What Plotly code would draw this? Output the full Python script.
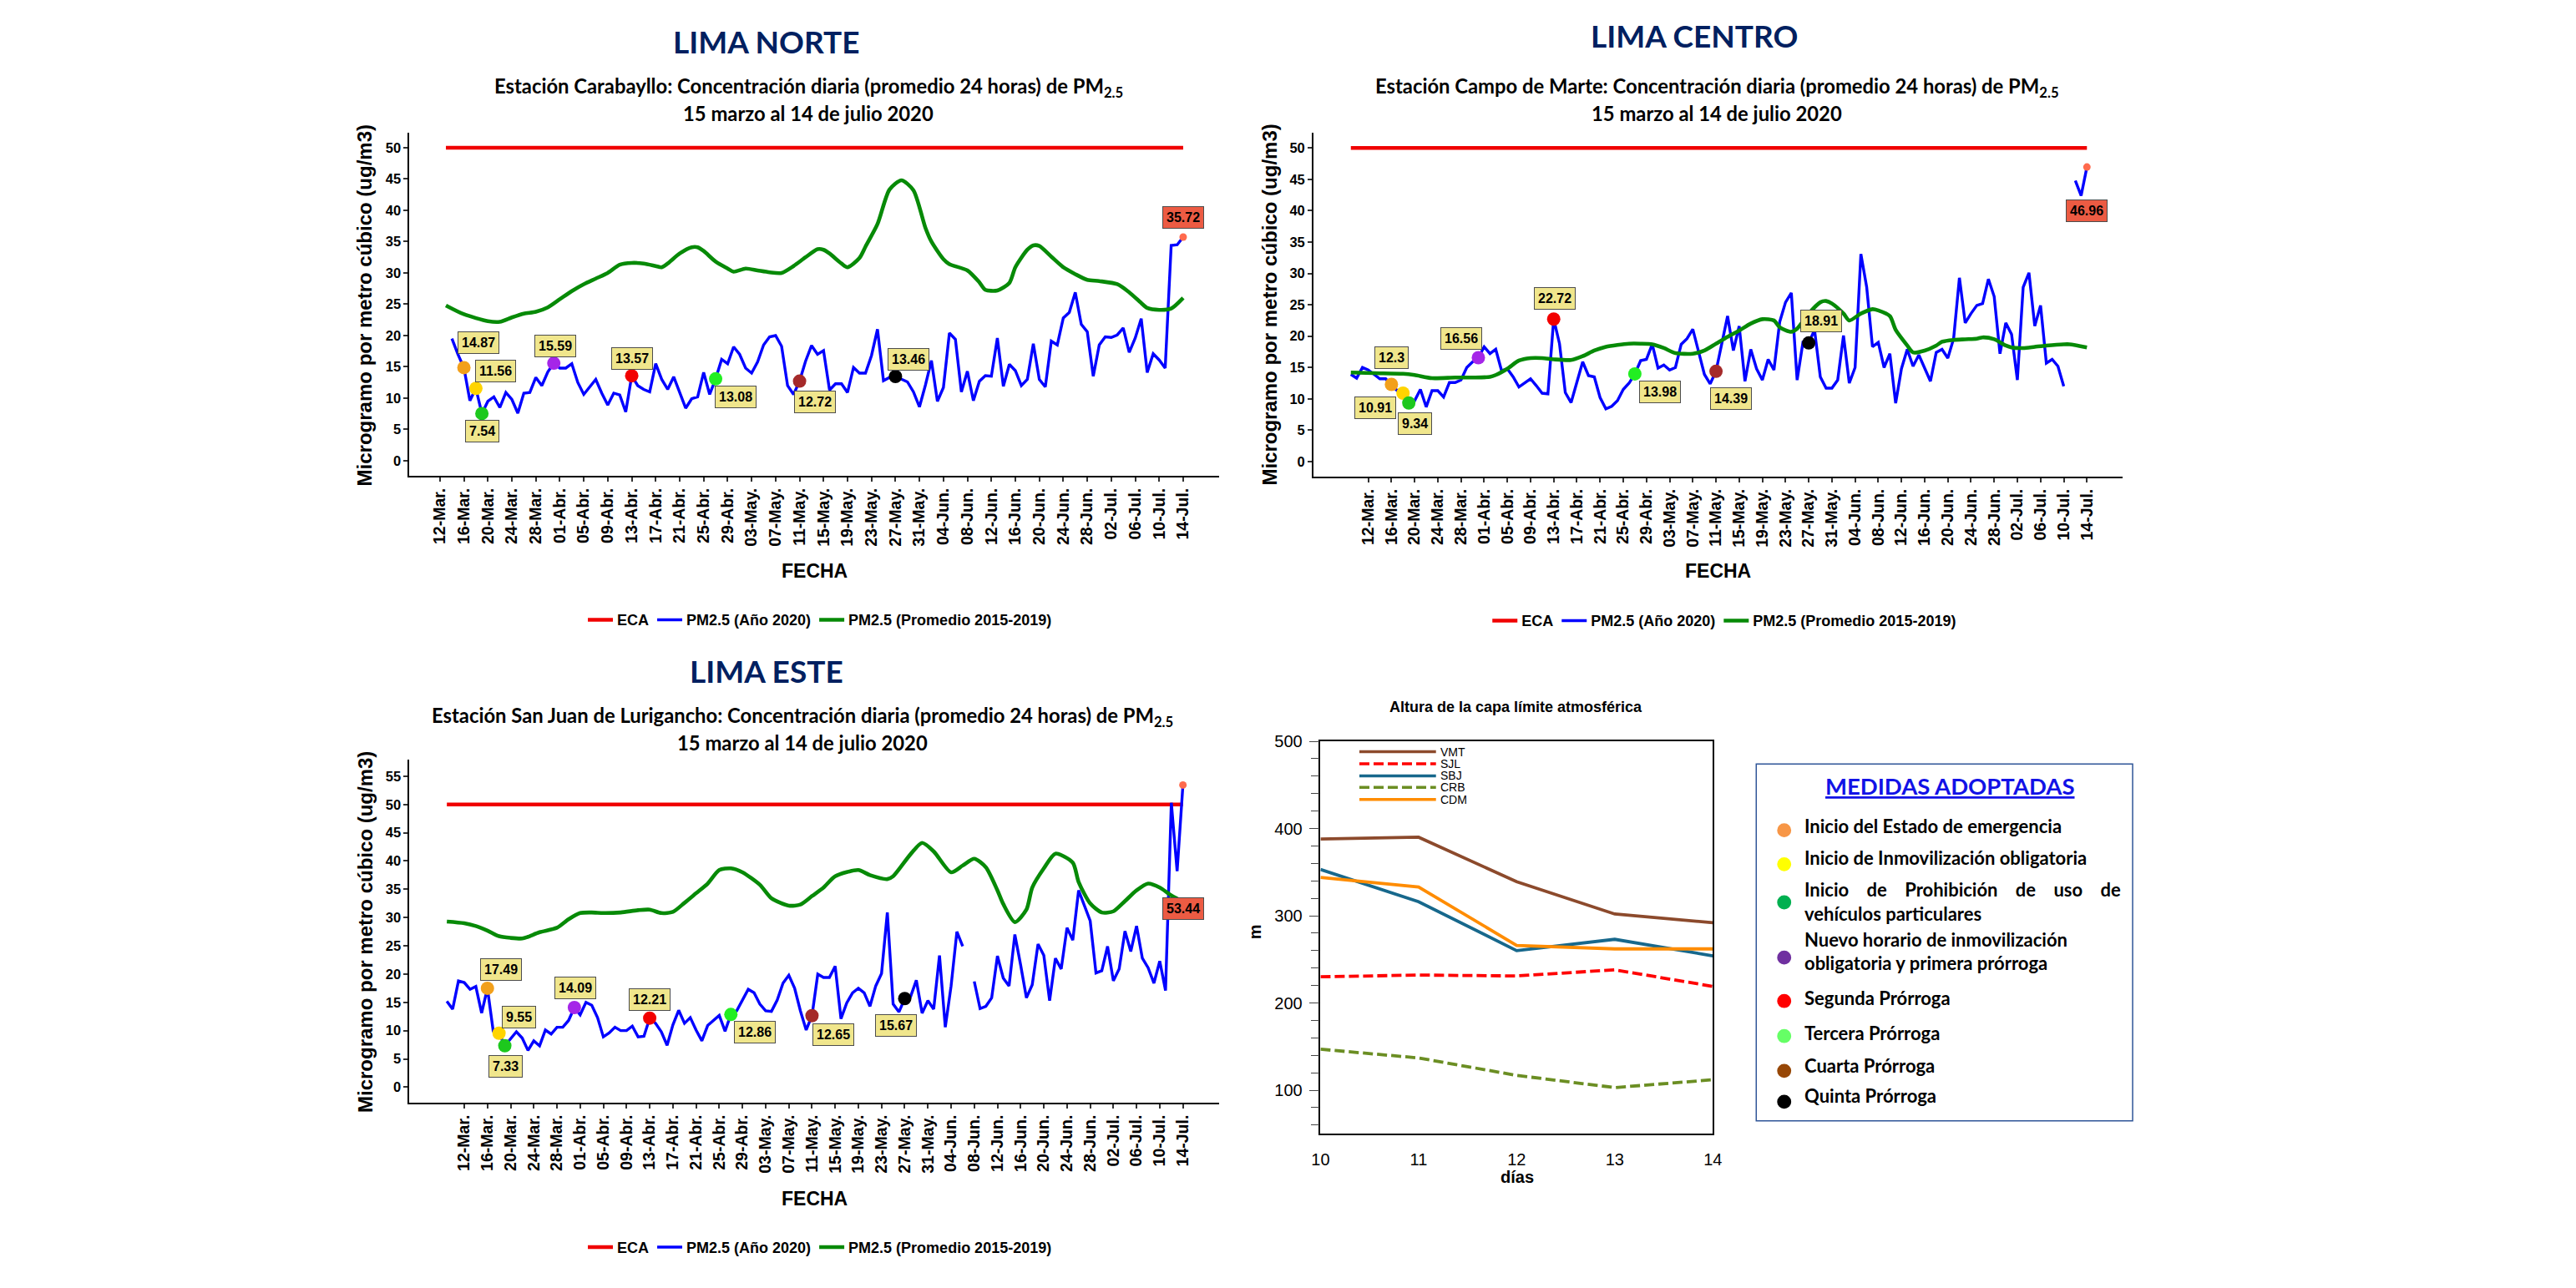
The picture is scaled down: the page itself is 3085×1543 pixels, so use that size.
import plotly.graph_objects as go
import pandas as pd

W, H = 3085, 1543
BASE = pd.Timestamp("2020-03-12")


def PX(x):
    return x / W


def PY(y):
    return 1 - y / H


def day(d):
    return BASE + pd.Timedelta(days=d)


# ------------------------------------------------------------------ DATA
ECA = 50
TICK_LABELS = ["12-Mar.", "16-Mar.", "20-Mar.", "24-Mar.", "28-Mar.", "01-Abr.", "05-Abr.", "09-Abr.",
               "13-Abr.", "17-Abr.", "21-Abr.", "25-Abr.", "29-Abr.", "03-May.", "07-May.", "11-May.",
               "15-May.", "19-May.", "23-May.", "27-May.", "31-May.", "04-Jun.", "08-Jun.", "12-Jun.",
               "16-Jun.", "20-Jun.", "24-Jun.", "28-Jun.", "02-Jul.", "06-Jul.", "10-Jul.", "14-Jul."]
TICK_DAYS = [4 * i for i in range(len(TICK_LABELS))]  # days after 12-Mar

# measures: 16-Mar, 18-Mar, 19-Mar, 31-Mar, 13-Abr, 27-Abr, 11-May, 27-May (days after 12-Mar)
MEDIDA_DAYS = [4, 6, 7, 19, 32, 46, 60, 76]
MEDIDA_COLORS = ["#F2A01C", "#FFD400", "#1DC81D", "#A526E8", "#F20000", "#22EE22", "#A52A2A", "#000000"]

# ---- Lima Norte (Carabayllo)
NORTE_ECA_DAYS = [1, 124]
NORTE_BLUE_FIRST_DAY = 2
NORTE_BLUE = [19.5, 17.0, 14.87, 9.6, 11.56, 7.54, 9.5, 10.2, 8.5, 10.9, 9.8, 7.6, 10.8, 10.9, 13.3, 12.0,
              14.2, 15.59, 14.8, 14.8, 15.5, 12.5, 10.6, 11.8, 13.0, 10.8, 8.9, 10.8, 10.5, 7.8, 13.57, 12.0,
              11.4, 11.0, 15.5, 13.0, 11.4, 13.4, 11.0, 8.4, 9.9, 10.2, 14.1, 10.6, 13.08, 16.2, 15.5, 18.2,
              17.0, 14.8, 14.0, 15.8, 18.5, 19.8, 20.0, 18.3, 12.0, 10.6, 12.72, 15.9, 18.4, 17.0, 17.6, 11.3,
              12.3, 12.3, 10.9, 14.9, 14.0, 14.0, 16.8, 21.0, 12.8, 13.3, 13.46, 13.0, 12.6, 11.0, 8.6, 12.1,
              16.0, 9.5, 11.7, 20.4, 19.4, 11.0, 14.3, 9.6, 12.7, 13.6, 13.5, 19.6, 11.9, 15.4, 14.4, 12.0,
              13.0, 18.7, 13.0, 11.8, 19.1, 18.5, 22.8, 23.7, 26.9, 21.8, 20.6, 13.5, 18.5, 19.8, 19.7, 20.1,
              21.2, 17.3, 19.6, 22.7, 14.1, 17.1, 16.1, 14.8, 34.4, 34.5, 35.72]
NORTE_PROM_DAY = [1, 4, 8, 10, 12, 14, 16, 18, 20, 22, 24, 26, 28, 30, 32, 34, 36, 37, 38, 40, 42, 43, 44,
                  46, 48, 49, 51, 53, 55, 57, 59, 61, 63, 64, 65, 67, 68, 70, 71, 73, 75, 77, 79, 81, 82,
                  84, 85, 88, 90, 91, 93, 95, 96, 98, 99, 100, 102, 104, 106, 108, 110, 113, 115, 117, 118,
                  120, 122, 124]
NORTE_PROM = [24.8, 23.4, 22.3, 22.2, 22.9, 23.5, 23.8, 24.5, 25.8, 27.1, 28.2, 29.1, 30.0, 31.3, 31.6,
              31.5, 31.1, 30.9, 31.5, 33.1, 34.1, 34.1, 33.5, 31.8, 30.7, 30.2, 30.7, 30.4, 30.1, 30.0,
              31.1, 32.5, 33.8, 33.7, 33.1, 31.5, 30.9, 32.4, 34.2, 37.8, 43.3, 44.8, 43.2, 37.2, 35.0,
              32.2, 31.4, 30.4, 28.5, 27.3, 27.2, 28.4, 30.9, 33.7, 34.4, 34.3, 32.6, 30.9, 29.8, 28.9,
              28.7, 28.2, 26.9, 25.2, 24.4, 24.1, 24.3, 26.0]
NORTE_MEDIDAS = [14.87, 11.56, 7.54, 15.59, 13.57, 13.08, 12.72, 13.46]

# ---- Lima Centro (Campo de Marte)
CENTRO_ECA_DAYS = [-3, 124]
CENTRO_BLUE_FIRST_DAY = -3
CENTRO_BLUE = [13.9, 13.3, 15.0, 14.6, 13.9, 13.2, 13.2, 12.3, 11.3, 10.91, 9.34, 9.7, 11.5, 8.7, 11.3, 11.3,
               10.3, 12.6, 12.6, 13.0, 15.0, 15.9, 16.56, 18.3, 17.2, 17.9, 14.5, 14.8, 13.5, 11.9, 12.5,
               13.2, 12.1, 10.9, 10.8, 22.72, 18.8, 11.0, 9.4, 12.6, 15.9, 13.7, 13.5, 10.2, 8.4, 8.8, 9.7,
               11.5, 12.5, 13.98, 16.1, 16.3, 18.7, 14.9, 15.4, 14.6, 15.0, 18.7, 19.6, 21.1, 17.7, 13.9,
               12.4, 14.39, 18.8, 23.2, 17.7, 21.6, 12.8, 17.9, 14.8, 13.0, 16.3, 14.6, 22.3, 25.4, 26.9,
               13.0, 19.0, 18.91, 21.0, 13.5, 11.7, 11.7, 13.0, 20.1, 12.5, 15.0, 33.1, 27.8, 18.3, 19.0,
               15.0, 17.2, 9.3, 14.8, 17.9, 15.2, 17.0, 15.0, 12.8, 17.4, 17.9, 16.5, 19.6, 29.3, 22.1,
               23.6, 24.9, 25.2, 29.1, 26.3, 17.2, 22.1, 20.3, 13.0, 27.8, 30.1, 21.6, 24.9, 15.7, 16.3,
               15.2, 12.0, None, 44.8, 42.4, 46.96]
CENTRO_PROM_DAY = [-3, 1, 6, 8, 11, 15, 18, 21, 22, 24, 26, 28, 30, 32, 35, 37, 39, 41, 43, 45, 47, 49, 51,
                   53, 56, 58, 60, 62, 64, 66, 68, 70, 71, 73, 74, 76, 78, 79, 80, 82, 83, 85, 87, 88, 90,
                   91, 93, 94, 96, 98, 99, 101, 103, 105, 106, 108, 110, 111, 113, 115, 117, 120, 121, 124]
CENTRO_PROM = [14.2, 14.1, 14.0, 13.8, 13.3, 13.4, 13.4, 13.5, 13.8, 14.8, 16.1, 16.5, 16.5, 16.3, 16.2,
               16.8, 17.7, 18.3, 18.6, 18.8, 18.8, 18.7, 18.1, 17.3, 17.2, 17.7, 18.8, 19.9, 20.9, 22.0,
               22.7, 22.5, 21.4, 20.7, 21.2, 23.6, 25.4, 25.6, 25.2, 23.6, 22.5, 23.6, 24.3, 24.1, 23.2,
               21.0, 18.5, 17.4, 17.7, 18.5, 19.1, 19.4, 19.5, 19.6, 19.8, 19.5, 18.5, 18.2, 18.1, 18.3,
               18.5, 18.7, 18.7, 18.2]
CENTRO_MEDIDAS = [12.3, 10.91, 9.34, 16.56, 22.72, 13.98, 14.39, 18.91]

# ---- Lima Este (San Juan de Lurigancho)
ESTE_ECA_DAYS = [-3, 124]
ESTE_BLUE_FIRST_DAY = -3
ESTE_BLUE = [15.2, 13.8, 18.8, 18.5, 17.3, 17.8, 13.1, 17.49, 9.9, 9.55, 7.33, 8.6, 9.8, 8.7, 6.5, 8.2, 7.3,
             10.1, 9.4, 10.6, 10.6, 11.8, 14.09, 12.8, 15.0, 14.5, 12.3, 8.9, 9.6, 10.6, 10.0, 10.0, 10.8,
             8.9, 9.0, 12.21, 11.3, 9.8, 7.4, 11.0, 13.6, 11.3, 12.3, 10.1, 8.2, 10.9, 11.8, 12.7, 9.9,
             12.86, 13.5, 15.5, 17.3, 16.7, 14.7, 13.5, 13.4, 15.4, 18.4, 19.8, 17.5, 13.5, 10.1, 12.65,
             20.0, 19.4, 19.4, 21.4, 12.1, 14.9, 16.7, 17.5, 16.7, 14.3, 17.9, 20.1, 30.9, 14.7, 13.3, 15.67,
             16.0, 18.9, 13.1, 15.3, 13.8, 23.3, 10.6, 17.9, 27.5, 24.9, None, 18.7, 13.9, 14.3, 15.8, 23.2,
             19.3, 17.9, 27.0, 21.6, 15.8, 18.1, 25.3, 23.3, 15.3, 22.8, 20.9, 28.2, 26.0, 34.8, 32.0, 29.4,
             20.2, 20.6, 24.9, 18.8, 20.9, 27.6, 24.0, 28.5, 22.8, 21.1, 18.4, 22.3, 17.1, 50.3, 38.2, 53.44]
ESTE_PROM_DAY = [-3, 0, 2, 4, 6, 8, 10, 11, 13, 16, 18, 20, 22, 24, 27, 30, 32, 34, 36, 38, 40, 42, 44, 46,
                 48, 51, 53, 56, 58, 60, 62, 64, 68, 70, 73, 74, 77, 79, 81, 84, 86, 88, 90, 92, 93, 95,
                 97, 98, 100, 102, 105, 106, 108, 110, 112, 114, 116, 118, 120, 122, 124]
ESTE_PROM = [29.3, 29.0, 28.5, 27.7, 26.7, 26.4, 26.3, 26.6, 27.4, 28.2, 29.7, 30.8, 30.9, 30.8, 30.9, 31.3,
             31.4, 30.8, 31.0, 32.6, 34.3, 36.0, 38.4, 38.7, 38.0, 35.8, 33.4, 32.1, 32.3, 33.8, 35.3, 37.3,
             38.4, 37.5, 36.8, 37.3, 41.2, 43.2, 41.7, 38.0, 39.2, 40.4, 38.9, 34.8, 32.4, 29.2, 31.4, 35.3,
             38.7, 41.3, 39.7, 36.3, 32.5, 30.9, 31.1, 32.9, 34.8, 36.0, 35.3, 33.9, 32.8]
ESTE_MEDIDAS = [17.49, 9.55, 7.33, 14.09, 12.21, 12.86, 12.65, 15.67]

# ---- Altura de la capa limite atmosferica
DIAS = [10, 11, 12, 13, 14]
CAPA_NAMES = ["VMT", "SJL", "SBJ", "CRB", "CDM"]
CAPA_VALUES = {
    "VMT": [388, 390, 339, 302, 292],
    "SJL": [230, 232, 231, 238, 219],
    "SBJ": [353, 316, 260, 273, 254],
    "CRB": [147, 137, 117, 103, 112],
    "CDM": [344, 333, 266, 262, 262],
}

MEDIDAS_TITLE = "MEDIDAS ADOPTADAS"
MEDIDAS_TEXT = [
    ["Inicio del Estado de emergencia"],
    ["Inicio de Inmovilización obligatoria"],
    ["Inicio\u00a0\u00a0\u00a0 de\u00a0\u00a0\u00a0 Prohibición\u00a0\u00a0\u00a0 de\u00a0\u00a0\u00a0 uso\u00a0\u00a0\u00a0 de",
     "vehículos particulares"],
    ["Nuevo horario de inmovilización", "obligatoria y primera prórroga"],
    ["Segunda Prórroga"],
    ["Tercera Prórroga"],
    ["Cuarta Prórroga"],
    ["Quinta Prórroga"],
]
MEDIDAS_LEGEND_COLORS = ["#F79646", "#FFFF00", "#00B050", "#7030A0", "#FF0000", "#66FF66", "#974706", "#000000"]

# ------------------------------------------------------------------ STYLE / LAYOUT
ARIAL = "Liberation Sans, Arial, sans-serif"
CALIBRI = "Lato, Open Sans, sans-serif"

PANELS = [
    dict(name="norte", xa="x", ya="y", legend="legend",
         title="LIMA NORTE", title_xy=(914, 39),
         sub1="Estación Carabayllo: Concentración diaria (promedio 24 horas) de PM<sub>2.5</sub>",
         sub_xy=(964, 95, 126),
         eca=NORTE_ECA_DAYS, first=NORTE_BLUE_FIRST_DAY, blue=NORTE_BLUE,
         pday=NORTE_PROM_DAY, prom=NORTE_PROM, med=NORTE_MEDIDAS,
         off=[(17, -30), (24, -21), (0, 21), (2, -21), (0, -21), (24, 22), (18, 25), (16, -21)],
         end_off=(0, -24),
         xdom=(482.9, 1459.8), ydom=(563, 149), xr=(-5.07, 130.05), yr=(-2.4, 52.4), yt=list(range(0, 51, 5)),
         ytitle_xy=(429, 357), fecha_xy=(971, 678), leg_xy=(978, 737)),
    dict(name="centro", xa="x2", ya="y2", legend="legend2",
         title="LIMA CENTRO", title_xy=(2032, 32),
         sub1="Estación Campo de Marte: Concentración diaria (promedio 24 horas) de PM<sub>2.5</sub>",
         sub_xy=(2060, 95, 126),
         eca=CENTRO_ECA_DAYS, first=CENTRO_BLUE_FIRST_DAY, blue=CENTRO_BLUE,
         pday=CENTRO_PROM_DAY, prom=CENTRO_PROM, med=CENTRO_MEDIDAS,
         off=[(0, -32), (-33, 18), (7, 25), (-20, -23), (1, -25), (30, 22), (18, 33), (15, -26)],
         end_off=(0, 52),
         xdom=(1573.3, 2548.8), ydom=(564, 149.3), xr=(-9.44, 130.1), yr=(-2.4, 52.4), yt=list(range(0, 51, 5)),
         ytitle_xy=(1520, 357), fecha_xy=(2061, 678), leg_xy=(2069, 738)),
    dict(name="este", xa="x3", ya="y3", legend="legend3",
         title="LIMA ESTE", title_xy=(914, 798),
         sub1="Estación San Juan de Lurigancho: Concentración diaria (promedio 24 horas) de PM<sub>2.5</sub>",
         sub_xy=(957, 854, 885),
         eca=ESTE_ECA_DAYS, first=ESTE_BLUE_FIRST_DAY, blue=ESTE_BLUE,
         pday=ESTE_PROM_DAY, prom=ESTE_PROM, med=ESTE_MEDIDAS,
         off=[(16, -22), (24, -19), (1, 25), (1, -23), (0, -22), (29, 21), (26, 23), (-10, 32)],
         end_off=(0, 148),
         xdom=(482.9, 1459.8), ydom=(1319.3, 905), xr=(-9.44, 130.3), yr=(-2.73, 58.0), yt=list(range(0, 56, 5)),
         ytitle_xy=(429, 1113), fecha_xy=(971, 1435), leg_xy=(978, 1494)),
]

fig = go.Figure()
annotations = []
shapes = []
layout_axes = {}
legends = {}


def paper_text(x, y, text, font, xanchor="center", angle=0):
    return dict(x=PX(x), y=PY(y), xref="paper", yref="paper", text=text, showarrow=False,
                xanchor=xanchor, yanchor="middle", textangle=angle, font=font)


for p in PANELS:
    eca_x = [day(d) for d in p["eca"]]
    fig.add_trace(go.Scatter(x=eca_x, y=[ECA] * len(eca_x), mode="lines", name="ECA",
                             line=dict(color="#F00000", width=4.5),
                             xaxis=p["xa"], yaxis=p["ya"], legend=p["legend"]))
    bx = [day(p["first"] + i) for i in range(len(p["blue"]))]
    fig.add_trace(go.Scatter(x=bx, y=p["blue"], mode="lines", name="PM2.5 (Año 2020)",
                             line=dict(color="#0000FF", width=3.4),
                             xaxis=p["xa"], yaxis=p["ya"], legend=p["legend"]))
    fig.add_trace(go.Scatter(x=[day(d) for d in p["pday"]], y=p["prom"], mode="lines",
                             name="PM2.5 (Promedio 2015-2019)",
                             line=dict(color="#078A07", width=4.6, shape="spline", smoothing=0.7),
                             xaxis=p["xa"], yaxis=p["ya"], legend=p["legend"]))
    mx = [day(d) for d in MEDIDA_DAYS]
    fig.add_trace(go.Scatter(x=mx, y=p["med"], mode="markers", showlegend=False,
                             marker=dict(color=MEDIDA_COLORS, size=16, line=dict(width=0)),
                             xaxis=p["xa"], yaxis=p["ya"]))
    fig.add_trace(go.Scatter(x=[bx[-1]], y=[p["blue"][-1]], mode="markers", showlegend=False,
                             marker=dict(color="#FF6A4D", size=9),
                             xaxis=p["xa"], yaxis=p["ya"]))
    for v, xv, (dx, dy) in zip(p["med"], mx, p["off"]):
        annotations.append(dict(x=xv, y=v, xref=p["xa"], yref=p["ya"], text=f"<b>{v:g}</b>",
                                showarrow=False, xshift=dx, yshift=-dy, xanchor="center", yanchor="middle",
                                bgcolor="#F0E68C", bordercolor="#4d4d4d", borderwidth=1, borderpad=4,
                                font=dict(family=ARIAL, size=16, color="black")))
    annotations.append(dict(x=bx[-1], y=p["blue"][-1], xref=p["xa"], yref=p["ya"],
                            text=f"<b>{p['blue'][-1]:g}</b>", showarrow=False,
                            xshift=p["end_off"][0], yshift=-p["end_off"][1], xanchor="center", yanchor="middle",
                            bgcolor="#EC5B43", bordercolor="#4d4d4d", borderwidth=1, borderpad=4,
                            font=dict(family=ARIAL, size=16, color="black")))

    xkey = "xaxis" + p["xa"][1:]
    ykey = "yaxis" + p["ya"][1:]
    layout_axes[xkey] = dict(
        domain=[PX(p["xdom"][0]), PX(p["xdom"][1])], anchor=p["ya"], type="date",
        range=[day(p["xr"][0]), day(p["xr"][1])],
        tickmode="array", tickvals=[day(d) for d in TICK_DAYS], ticktext=TICK_LABELS,
        tickangle=-90, tickfont=dict(family=ARIAL, size=19.5, color="black", weight="bold"),
        ticks="outside", ticklen=5, tickwidth=1.5, tickcolor="#333333",
        showline=True, linecolor="black", linewidth=2, showgrid=False, zeroline=False)
    layout_axes[ykey] = dict(
        domain=[PY(p["ydom"][0]), PY(p["ydom"][1])], anchor=p["xa"],
        range=list(p["yr"]), tickmode="array", tickvals=p["yt"],
        tickfont=dict(family=ARIAL, size=16.5, color="black", weight="bold"),
        ticks="outside", ticklen=5, tickwidth=1.5, tickcolor="#333333",
        showline=True, linecolor="black", linewidth=2, showgrid=False, zeroline=False)
    legends[p["legend"]] = dict(
        orientation="h", x=PX(p["leg_xy"][0]), xanchor="center", y=PY(p["leg_xy"][1]), yanchor="middle",
        font=dict(family=ARIAL, size=18, color="black", weight="bold"), bgcolor="rgba(0,0,0,0)",
        itemwidth=30, traceorder="normal")

    annotations.append(paper_text(*p["title_xy"], p["title"],
                                  dict(family=CALIBRI, size=37, color="#002060", weight="bold")))
    annotations.append(paper_text(p["sub_xy"][0], p["sub_xy"][1], p["sub1"],
                                  dict(family=CALIBRI, size=23.8, color="black", weight="bold")))
    annotations.append(paper_text(p["sub_xy"][0], p["sub_xy"][2], "15 marzo al 14 de julio 2020",
                                  dict(family=CALIBRI, size=23.8, color="black", weight="bold")))
    annotations.append(paper_text(*p["ytitle_xy"], "Microgramo por metro cúbico (ug/m3)",
                                  dict(family=ARIAL, size=24, color="black", weight="bold"), angle=-90))
    annotations.append(paper_text(*p["fecha_xy"], "FECHA",
                                  dict(family=ARIAL, size=23, color="black", weight="bold")))

# ---------------- boundary-layer height panel
CAPA_STYLE = {
    "VMT": dict(color="#8C4A2C", dash="solid"),
    "SJL": dict(color="#FF0000", dash="12px,5px"),
    "SBJ": dict(color="#17688C", dash="solid"),
    "CRB": dict(color="#6B8E23", dash="12px,5px"),
    "CDM": dict(color="#FF8C00", dash="solid"),
}
for nm in CAPA_NAMES:
    st = CAPA_STYLE[nm]
    fig.add_trace(go.Scatter(x=DIAS, y=CAPA_VALUES[nm], mode="lines", name=nm, showlegend=False,
                             line=dict(color=st["color"], width=3.8, dash=st["dash"]),
                             xaxis="x4", yaxis="y4"))

layout_axes["xaxis4"] = dict(
    domain=[PX(1581.7), PX(2054.9)], anchor="y4", range=[10, 14], tickvals=DIAS,
    tickfont=dict(family=ARIAL, size=20, color="black"), ticks="", ticklabelstandoff=12,
    showline=True, mirror=True, linecolor="black", linewidth=1.5, showgrid=False, zeroline=False)
layout_axes["yaxis4"] = dict(
    domain=[PY(1357), PY(883.3)], anchor="x4", range=[50, 500], tickvals=[100, 200, 300, 400, 500],
    tickfont=dict(family=ARIAL, size=20, color="black"), ticks="outside", ticklen=12, tickwidth=1,
    tickcolor="#444444", ticklabelstandoff=4,
    minor=dict(dtick=20, tick0=0, ticks="outside", ticklen=10, tickwidth=1, tickcolor="#444444"),
    showline=True, mirror=True, linecolor="black", linewidth=1.5, showgrid=False, zeroline=False)

annotations.append(paper_text(1817, 842, "Altura de la capa límite atmosférica",
                              dict(family=ARIAL, size=18, color="black", weight="bold")))
annotations.append(paper_text(1819, 1409, "días", dict(family=ARIAL, size=20, color="black", weight="bold")))
annotations.append(paper_text(1503, 1113, "m", dict(family=ARIAL, size=20, color="black", weight="bold"),
                              angle=-90))

# manual key for the boundary-layer lines
CAPA_KEY_ROWS = [896, 910.5, 925, 939, 953.5]
for nm, ry in zip(CAPA_NAMES, CAPA_KEY_ROWS):
    st = CAPA_STYLE[nm]
    shapes.append(dict(type="line", xref="paper", yref="paper", x0=PX(1628.6), x1=PX(1721),
                       y0=PY(ry), y1=PY(ry), line=dict(color=st["color"], width=3.5, dash=st["dash"])))
    annotations.append(paper_text(1724, ry, nm, dict(family=ARIAL, size=14, color="black"), xanchor="left"))

# ---------------- MEDIDAS ADOPTADAS box
shapes.append(dict(type="rect", xref="paper", yref="paper", x0=PX(2107.3), x1=PX(2561.3),
                   y0=PY(1341.3), y1=PY(910.7), line=dict(color="#2F5597", width=1.5),
                   fillcolor="rgba(0,0,0,0)"))
annotations.append(paper_text(2341.5, 937, f"<u>{MEDIDAS_TITLE}</u>",
                              dict(family=CALIBRI, size=27.5, color="#1212E6", weight="bold")))
MED_DOT_Y = [990.7, 1031.7, 1077.7, 1144.3, 1196.7, 1239, 1281, 1318.3]
MED_TEXT_Y = [[986], [1024.3], [1062, 1091], [1122, 1151], [1192.7], [1235], [1274.3], [1311]]
for col, cy, lines, ys in zip(MEDIDAS_LEGEND_COLORS, MED_DOT_Y, MEDIDAS_TEXT, MED_TEXT_Y):
    shapes.append(dict(type="circle", xref="paper", yref="paper", x0=PX(2141 - 8.5), x1=PX(2141 + 8.5),
                       y0=PY(cy + 8.5), y1=PY(cy - 8.5), fillcolor=col, line=dict(width=0)))
    for t, ty in zip(lines, ys):
        annotations.append(paper_text(2163, ty, t, dict(family=CALIBRI, size=22, color="black",
                                                        weight="bold"), xanchor="left"))

fig.update_layout(
    width=W, height=H, autosize=False, margin=dict(l=0, r=0, t=0, b=0, pad=0),
    paper_bgcolor="white", plot_bgcolor="white", showlegend=True,
    annotations=annotations, shapes=shapes, **layout_axes, **legends,
)

fig.write_html("out.html", config={"displayModeBar": False},
               post_script="document.body.style.margin='0';")
